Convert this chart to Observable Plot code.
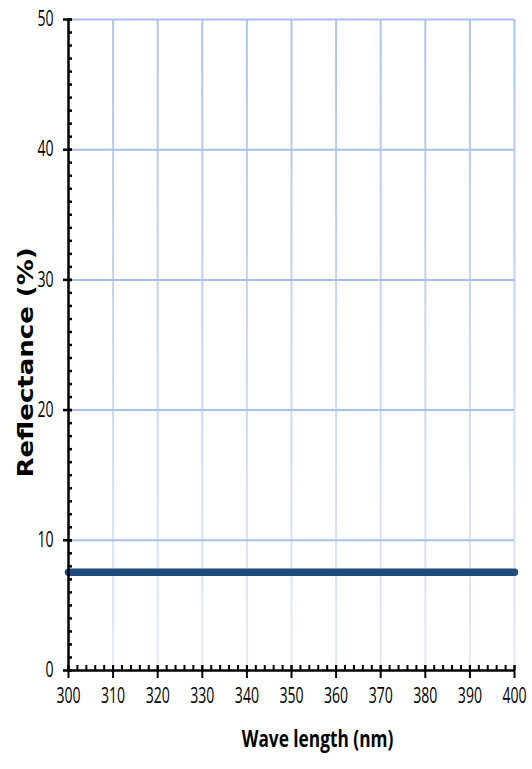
<!DOCTYPE html>
<html><head><meta charset="utf-8">
<script src="https://cdn.jsdelivr.net/npm/d3@7"></script>
<script src="https://cdn.jsdelivr.net/npm/@observablehq/plot@0.6"></script>
<style>body{margin:0;background:#fff}</style>
</head><body><div id="chart"></div>
<script>
const wavelengths = [300, 310, 320, 330, 340, 350, 360, 370, 380, 390, 400];
const reflectance = [7.55, 7.55, 7.55, 7.55, 7.55, 7.55, 7.55, 7.55, 7.55, 7.55, 7.55];
const xTicks = [300, 310, 320, 330, 340, 350, 360, 370, 380, 390, 400];
const yTicks = [0, 10, 20, 30, 40, 50];
const xMinor = d3.range(300, 401, 2);
const yMinor = d3.range(0, 51, 1);
const xTitle = "Wave length (nm)";
const yTitle = "Reflectance (%)";
const data = wavelengths.map((w, i) => ({w, r: reflectance[i]}));

const chart = Plot.plot({
  width: 532, height: 769,
  marginLeft: 68, marginRight: 18, marginTop: 19, marginBottom: 99,
  x: {type: "linear", domain: [300, 400], axis: null},
  y: {type: "linear", domain: [0, 50], axis: null},
  style: {fontFamily: "'Open Sans', sans-serif", fontSize: "21px", color: "#000", background: "#fff"},
  marks: [
    Plot.ruleX(xTicks.slice(1), {stroke: "#afc4ea", strokeWidth: 2, ariaDescription: "vgrid"}),
    Plot.ruleY(yTicks.slice(1), {stroke: "#a9c0ea", strokeWidth: 2}),
    Plot.line(data, {x: "w", y: "r", stroke: "#1f4b7d", strokeWidth: 7.5}),
    Plot.axisY(yMinor, {tickSize: -4, label: null, tickFormat: () => "", strokeWidth: 2.5}),
    Plot.axisX(xMinor, {tickSize: -5, label: null, tickFormat: () => "", strokeWidth: 2}),
    Plot.axisY(yTicks, {tickSize: 9, label: null, tickFormat: () => "", strokeWidth: 2.5, dx: 4}),
    Plot.axisX(xTicks, {tickSize: 13, label: null, tickFormat: () => "", strokeWidth: 2, dy: -5}),
    Plot.ruleX([300], {stroke: "#000", strokeWidth: 2.5}),
    Plot.ruleY([0], {stroke: "#000", strokeWidth: 2.5}),
    Plot.text(xTicks, {x: d => d, text: d => String(d), frameAnchor: "bottom", textAnchor: "middle", dy: 32.5, fontSize: 21, ariaDescription: "squeeze"}),
    Plot.text(yTicks, {y: d => d, text: d => String(d), frameAnchor: "left", textAnchor: "end", dx: -15, fontSize: 21, ariaDescription: "squeeze"}),
    Plot.text([xTitle], {frameAnchor: "bottom", textAnchor: "middle", dx: 26, dy: 76, fontWeight: "bold", fontSize: 24, ariaDescription: "xtitle"}),
    Plot.text([yTitle], {frameAnchor: "left", textAnchor: "middle", dx: -42, dy: 17.5, rotate: -90, fontWeight: "bold", fontSize: 26, fontFamily: "'DejaVu Sans', sans-serif", ariaDescription: "ytitle"})
  ]
});
document.getElementById("chart").appendChild(chart);

const svg = d3.select(chart);
// gradient for vertical gridlines (fade downward)
const defs = svg.insert("defs", ":first-child");
const g = defs.append("linearGradient").attr("id", "vgridGrad")
  .attr("gradientUnits", "userSpaceOnUse").attr("x1", 0).attr("y1", 19).attr("x2", 0).attr("y2", 670);
g.append("stop").attr("offset", "0").attr("stop-color", "#aec3ea");
g.append("stop").attr("offset", "1").attr("stop-color", "#e3eaf7");
svg.selectAll('g[aria-description="vgrid"]').attr("stroke", "url(#vgridGrad)")
  .selectAll("line").attr("stroke", null);

function squeeze(sel, s) {
  sel.each(function() {
    const len = this.getComputedTextLength();
    if (len > 0) {
      this.setAttribute("textLength", (len * s).toFixed(2));
      this.setAttribute("lengthAdjust", "spacingAndGlyphs");
    }
  });
}
squeeze(svg.selectAll('g[aria-description="squeeze"] text'), 0.67);
squeeze(svg.selectAll('g[aria-description="xtitle"] text'), 0.72);
svg.selectAll('g[aria-description="ytitle"] text').each(function() {
  const t = this.getAttribute("transform") || "";
  this.setAttribute("transform", t.replace(/rotate\(/, "scale(0.79,1) rotate("));
});
</script>
</body></html>
